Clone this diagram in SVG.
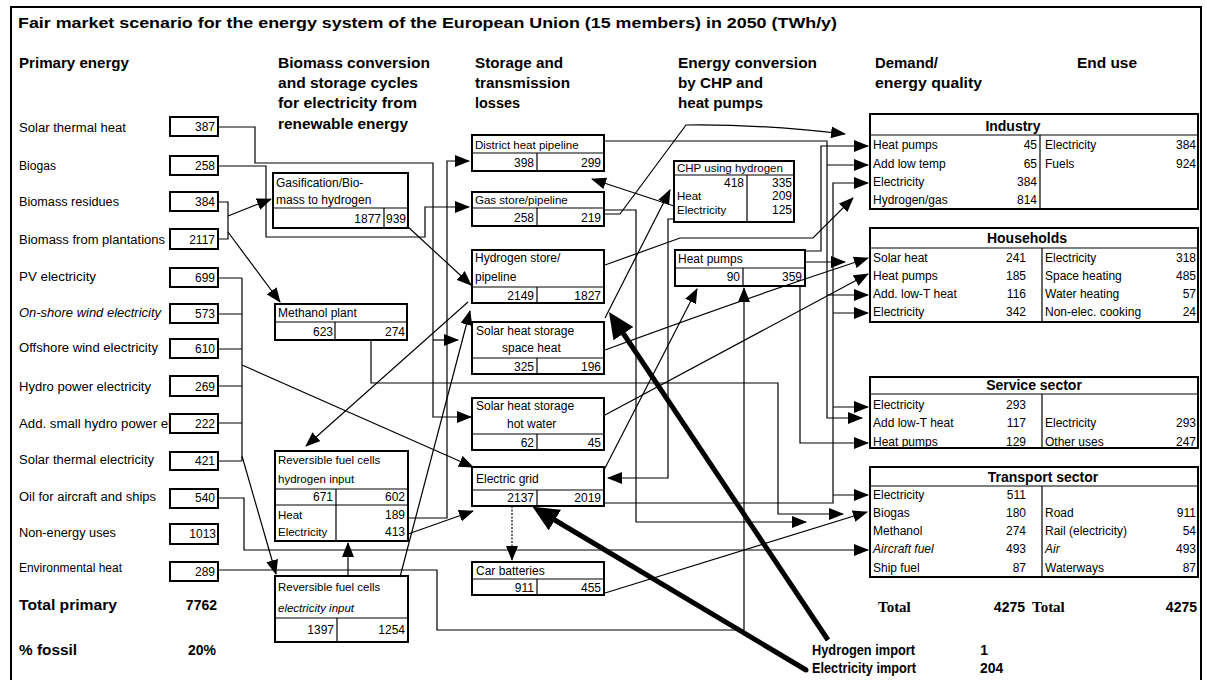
<svg xmlns="http://www.w3.org/2000/svg" width="1207" height="680" viewBox="0 0 1207 680">
<defs>
<style>
text{font-family:"Liberation Sans",Arial,sans-serif;fill:#000}
.t{font-size:12px}
.s{font-size:11.5px}
.h{font-size:14px;font-weight:bold}
.st{font-size:14px;font-weight:bold;text-anchor:middle}
.r{text-anchor:end}
.i{font-style:italic}
.box{fill:#fff;stroke:#000;stroke-width:2}
.ln{stroke:#000;stroke-width:1.2;fill:none}
.c{stroke:#000;stroke-width:1.2;fill:none}
.thick{stroke:#000;stroke-width:5;fill:none}
.serif{font-family:"Liberation Serif","Times New Roman",serif;font-weight:bold;font-size:15px}
</style>
<marker id="ah" markerUnits="userSpaceOnUse" markerWidth="15" markerHeight="12" refX="14" refY="6" orient="auto"><path d="M0,0 L15,6 L0,12 z" fill="#000"/></marker>
<marker id="ahb" markerUnits="userSpaceOnUse" markerWidth="26" markerHeight="24" refX="8" refY="12" orient="auto"><path d="M0,0 L26,12 L0,24 z" fill="#000"/></marker>
</defs>
<rect x="0" y="0" width="1207" height="680" fill="#fff"/>
<rect x="11" y="7" width="1190" height="690" fill="none" stroke="#000" stroke-width="2"/>

<text x="18" y="28" style="font-size:15px;font-weight:bold" textLength="819" lengthAdjust="spacingAndGlyphs">Fair market scenario for the energy system of the European Union (15 members) in 2050 (TWh/y)</text>

<g id="headers">
<text class="h" x="19" y="68" textLength="110" lengthAdjust="spacingAndGlyphs">Primary energy</text>
<text class="h" x="278" y="68" textLength="152" lengthAdjust="spacingAndGlyphs">Biomass conversion</text>
<text class="h" x="278" y="88" textLength="140" lengthAdjust="spacingAndGlyphs">and storage cycles</text>
<text class="h" x="278" y="108" textLength="139" lengthAdjust="spacingAndGlyphs">for electricity from</text>
<text class="h" x="278" y="129" textLength="130" lengthAdjust="spacingAndGlyphs">renewable energy</text>
<text class="h" x="475" y="68" textLength="88" lengthAdjust="spacingAndGlyphs">Storage and</text>
<text class="h" x="475" y="88" textLength="95" lengthAdjust="spacingAndGlyphs">transmission</text>
<text class="h" x="475" y="108" textLength="45" lengthAdjust="spacingAndGlyphs">losses</text>
<text class="h" x="678" y="68" textLength="139" lengthAdjust="spacingAndGlyphs">Energy conversion</text>
<text class="h" x="678" y="88" textLength="85" lengthAdjust="spacingAndGlyphs">by CHP and</text>
<text class="h" x="678" y="108" textLength="85" lengthAdjust="spacingAndGlyphs">heat pumps</text>
<text class="h" x="875" y="68" textLength="63" lengthAdjust="spacingAndGlyphs">Demand/</text>
<text class="h" x="875" y="88" textLength="107" lengthAdjust="spacingAndGlyphs">energy quality</text>
<text class="h" x="1077" y="68" textLength="60" lengthAdjust="spacingAndGlyphs">End use</text>
</g>

<g id="primary">
<text class="t" x="19" y="132" textLength="107" lengthAdjust="spacingAndGlyphs">Solar thermal heat</text>
<rect class="box" x="170" y="117" width="48" height="19"/><text class="t r" x="215" y="131">387</text>
<text class="t" x="19" y="170" textLength="37" lengthAdjust="spacingAndGlyphs">Biogas</text>
<rect class="box" x="170" y="156" width="48" height="19"/><text class="t r" x="215" y="170">258</text>
<text class="t" x="19" y="206" textLength="100" lengthAdjust="spacingAndGlyphs">Biomass residues</text>
<rect class="box" x="170" y="192" width="48" height="19"/><text class="t r" x="215" y="206">384</text>
<text class="t" x="19" y="244" textLength="146" lengthAdjust="spacingAndGlyphs">Biomass from plantations</text>
<rect class="box" x="170" y="229" width="48" height="20"/><text class="t r" x="215" y="244">2117</text>
<text class="t" x="19" y="281" textLength="77" lengthAdjust="spacingAndGlyphs">PV electricity</text>
<rect class="box" x="170" y="268" width="48" height="19"/><text class="t r" x="215" y="282">699</text>
<text class="t i" x="19" y="317" textLength="142" lengthAdjust="spacingAndGlyphs">On-shore wind electricity</text>
<rect class="box" x="170" y="304" width="48" height="19"/><text class="t r" x="215" y="318">573</text>
<text class="t" x="19" y="352" textLength="139" lengthAdjust="spacingAndGlyphs">Offshore wind electricity</text>
<rect class="box" x="170" y="339" width="48" height="19"/><text class="t r" x="215" y="353">610</text>
<text class="t" x="19" y="391" textLength="132" lengthAdjust="spacingAndGlyphs">Hydro power electricity</text>
<rect class="box" x="170" y="376" width="48" height="20"/><text class="t r" x="215" y="391">269</text>
<text class="t" x="19" y="428" textLength="152" lengthAdjust="spacingAndGlyphs">Add. small hydro power el</text>
<rect class="box" x="170" y="414" width="48" height="19"/><text class="t r" x="215" y="428">222</text>
<text class="t" x="19" y="464" textLength="135" lengthAdjust="spacingAndGlyphs">Solar thermal electricity</text>
<rect class="box" x="170" y="452" width="48" height="18"/><text class="t r" x="215" y="465">421</text>
<text class="t" x="19" y="501" textLength="137" lengthAdjust="spacingAndGlyphs">Oil for aircraft and ships</text>
<rect class="box" x="170" y="489" width="48" height="19"/><text class="t r" x="215" y="502">540</text>
<text class="t" x="19" y="537" textLength="97" lengthAdjust="spacingAndGlyphs">Non-energy uses</text>
<rect class="box" x="170" y="524" width="48" height="20"/><text class="t r" x="216" y="538">1013</text>
<text class="t" x="19" y="572" textLength="103" lengthAdjust="spacingAndGlyphs">Environmental heat</text>
<rect class="box" x="170" y="562" width="48" height="19"/><text class="t r" x="215" y="576">289</text>
<text class="h" x="19" y="610" textLength="98" lengthAdjust="spacingAndGlyphs">Total primary</text>
<text class="h r" x="217" y="610">7762</text>
<text class="h" x="19" y="655" textLength="58" lengthAdjust="spacingAndGlyphs">% fossil</text>
<text class="h r" x="216" y="655">20%</text>
</g>

<g id="gasification">
<rect class="box" x="273" y="173" width="135" height="55"/>
<line class="ln" x1="273" y1="208" x2="408" y2="208"/><line class="ln" x1="384" y1="208" x2="384" y2="228"/>
<text class="t" x="276" y="187">Gasification/Bio-</text>
<text class="t" x="276" y="204">mass to hydrogen</text>
<text class="t r" x="381" y="223">1877</text><text class="t r" x="406" y="223">939</text>
</g>
<g id="methanol">
<rect class="box" x="275" y="304" width="132" height="36"/>
<line class="ln" x1="275" y1="322" x2="407" y2="322"/><line class="ln" x1="335" y1="322" x2="335" y2="340"/>
<text class="t" x="278" y="317">Methanol plant</text>
<text class="t r" x="333" y="336">623</text><text class="t r" x="405" y="336">274</text>
</g>
<g id="rfc-hydrogen">
<rect class="box" x="275" y="451" width="133" height="90"/>
<line class="ln" x1="275" y1="489" x2="408" y2="489"/><line class="ln" x1="275" y1="505" x2="408" y2="505"/><line class="ln" x1="336" y1="489" x2="336" y2="541"/>
<text class="s" x="278" y="464">Reversible fuel cells</text>
<text class="s" x="278" y="483">hydrogen input</text>
<text class="t r" x="333" y="501">671</text><text class="t r" x="405" y="501">602</text>
<text class="s" x="278" y="519">Heat</text><text class="t r" x="405" y="519">189</text>
<text class="s" x="278" y="536">Electricity</text><text class="t r" x="405" y="536">413</text>
</g>
<g id="rfc-electricity">
<rect class="box" x="275" y="576" width="133" height="66"/>
<line class="ln" x1="275" y1="618" x2="408" y2="618"/><line class="ln" x1="337" y1="618" x2="337" y2="642"/>
<text class="s" x="278" y="591">Reversible fuel cells</text>
<text class="s i" x="278" y="612">electricity input</text>
<text class="t r" x="334" y="634">1397</text><text class="t r" x="405" y="634">1254</text>
</g>

<g id="district-heat">
<rect class="box" x="472" y="135" width="132" height="36"/>
<line class="ln" x1="472" y1="153" x2="604" y2="153"/><line class="ln" x1="537" y1="153" x2="537" y2="171"/>
<text class="s" x="475" y="149">District heat pipeline</text>
<text class="t r" x="534" y="167">398</text><text class="t r" x="601" y="167">299</text>
</g>
<g id="gas-store">
<rect class="box" x="472" y="192" width="132" height="34"/>
<line class="ln" x1="472" y1="208" x2="604" y2="208"/><line class="ln" x1="537" y1="208" x2="537" y2="226"/>
<text class="s" x="475" y="204">Gas store/pipeline</text>
<text class="t r" x="534" y="222">258</text><text class="t r" x="601" y="222">219</text>
</g>
<g id="hydrogen-store">
<rect class="box" x="472" y="250" width="132" height="53"/>
<line class="ln" x1="472" y1="287" x2="604" y2="287"/><line class="ln" x1="537" y1="287" x2="537" y2="303"/>
<text class="t" x="475" y="262">Hydrogen store/</text>
<text class="t" x="475" y="281">pipeline</text>
<text class="t r" x="534" y="300">2149</text><text class="t r" x="601" y="300">1827</text>
</g>
<g id="solar-space">
<rect class="box" x="472" y="322" width="132" height="52"/>
<line class="ln" x1="472" y1="358" x2="604" y2="358"/><line class="ln" x1="537" y1="358" x2="537" y2="374"/>
<text class="t" x="476" y="335">Solar heat storage</text>
<text class="t" x="502" y="352">space heat</text>
<text class="t r" x="534" y="371">325</text><text class="t r" x="601" y="371">196</text>
</g>
<g id="solar-water">
<rect class="box" x="472" y="398" width="132" height="52"/>
<line class="ln" x1="472" y1="434" x2="604" y2="434"/><line class="ln" x1="537" y1="434" x2="537" y2="450"/>
<text class="t" x="476" y="410">Solar heat storage</text>
<text class="t" x="507" y="428">hot water</text>
<text class="t r" x="534" y="447">62</text><text class="t r" x="601" y="447">45</text>
</g>
<g id="electric-grid">
<rect class="box" x="472" y="467" width="132" height="39"/>
<line class="ln" x1="472" y1="490" x2="604" y2="490"/><line class="ln" x1="537" y1="490" x2="537" y2="506"/>
<text class="t" x="476" y="483">Electric grid</text>
<text class="t r" x="534" y="502">2137</text><text class="t r" x="601" y="502">2019</text>
</g>
<g id="car-batteries">
<rect class="box" x="472" y="562" width="132" height="33"/>
<line class="ln" x1="472" y1="579" x2="604" y2="579"/><line class="ln" x1="537" y1="579" x2="537" y2="595"/>
<text class="t" x="476" y="575">Car batteries</text>
<text class="t r" x="534" y="592">911</text><text class="t r" x="601" y="592">455</text>
</g>
<g id="chp">
<rect class="box" x="674" y="161" width="120" height="61"/>
<line class="ln" x1="674" y1="175" x2="794" y2="175"/><line class="ln" x1="747" y1="175" x2="747" y2="222"/>
<text class="s" x="677" y="172">CHP using hydrogen</text>
<text class="t r" x="744" y="187">418</text><text class="t r" x="792" y="187">335</text>
<text class="s" x="677" y="200">Heat</text><text class="t r" x="792" y="200">209</text>
<text class="s" x="677" y="214">Electricity</text><text class="t r" x="792" y="214">125</text>
</g>
<g id="heat-pumps">
<rect class="box" x="675" y="250" width="130" height="36"/>
<line class="ln" x1="675" y1="268" x2="805" y2="268"/><line class="ln" x1="743" y1="268" x2="743" y2="286"/>
<text class="t" x="678" y="263">Heat pumps</text>
<text class="t r" x="740" y="281">90</text><text class="t r" x="802" y="281">359</text>
</g>

<g id="industry">
<rect class="box" x="870" y="114" width="328" height="95"/>
<line class="ln" x1="870" y1="135" x2="1198" y2="135"/><line class="ln" x1="1040" y1="135" x2="1040" y2="209"/>
<text class="st" x="1013" y="131">Industry</text>
<text class="t" x="873" y="149">Heat pumps</text><text class="t r" x="1037" y="149">45</text>
<text class="t" x="873" y="168">Add low temp</text><text class="t r" x="1037" y="168">65</text>
<text class="t" x="873" y="186">Electricity</text><text class="t r" x="1037" y="186">384</text>
<text class="t" x="873" y="204">Hydrogen/gas</text><text class="t r" x="1037" y="204">814</text>
<text class="t" x="1045" y="149">Electricity</text><text class="t r" x="1196" y="149">384</text>
<text class="t" x="1045" y="168">Fuels</text><text class="t r" x="1196" y="168">924</text>
</g>
<g id="households">
<rect class="box" x="870" y="228" width="328" height="94"/>
<line class="ln" x1="870" y1="248" x2="1198" y2="248"/><line class="ln" x1="1042" y1="248" x2="1042" y2="322"/>
<text class="st" x="1027" y="243">Households</text>
<text class="t" x="873" y="262">Solar heat</text><text class="t r" x="1026" y="262">241</text>
<text class="t" x="873" y="280">Heat pumps</text><text class="t r" x="1026" y="280">185</text>
<text class="t" x="873" y="298">Add. low-T heat</text><text class="t r" x="1026" y="298">116</text>
<text class="t" x="873" y="316">Electricity</text><text class="t r" x="1026" y="316">342</text>
<text class="t" x="1045" y="262">Electricity</text><text class="t r" x="1196" y="262">318</text>
<text class="t" x="1045" y="280">Space heating</text><text class="t r" x="1196" y="280">485</text>
<text class="t" x="1045" y="298">Water heating</text><text class="t r" x="1196" y="298">57</text>
<text class="t" x="1045" y="316">Non-elec. cooking</text><text class="t r" x="1196" y="316">24</text>
</g>
<g id="service">
<rect class="box" x="870" y="377" width="328" height="71"/>
<line class="ln" x1="870" y1="394" x2="1198" y2="394"/><line class="ln" x1="1042" y1="394" x2="1042" y2="448"/>
<text class="st" x="1034" y="390">Service sector</text>
<text class="t" x="873" y="409">Electricity</text><text class="t r" x="1026" y="409">293</text>
<text class="t" x="873" y="427">Add low-T heat</text><text class="t r" x="1026" y="427">117</text>
<text class="t" x="873" y="446">Heat pumps</text><text class="t r" x="1026" y="446">129</text>
<text class="t" x="1045" y="427">Electricity</text><text class="t r" x="1196" y="427">293</text>
<text class="t" x="1045" y="446">Other uses</text><text class="t r" x="1196" y="446">247</text>
</g>
<g id="transport">
<rect class="box" x="870" y="467" width="328" height="110"/>
<line class="ln" x1="870" y1="486" x2="1198" y2="486"/><line class="ln" x1="1042" y1="486" x2="1042" y2="577"/>
<text class="st" x="1043" y="482">Transport sector</text>
<text class="t" x="873" y="499">Electricity</text><text class="t r" x="1026" y="499">511</text>
<text class="t" x="873" y="517">Biogas</text><text class="t r" x="1026" y="517">180</text>
<text class="t" x="873" y="535">Methanol</text><text class="t r" x="1026" y="535">274</text>
<text class="t i" x="873" y="553">Aircraft fuel</text><text class="t r" x="1026" y="553">493</text>
<text class="t" x="873" y="572">Ship fuel</text><text class="t r" x="1026" y="572">87</text>
<text class="t" x="1045" y="517">Road</text><text class="t r" x="1196" y="517">911</text>
<text class="t" x="1045" y="535">Rail (electricity)</text><text class="t r" x="1196" y="535">54</text>
<text class="t i" x="1045" y="553">Air</text><text class="t r" x="1196" y="553">493</text>
<text class="t" x="1045" y="572">Waterways</text><text class="t r" x="1196" y="572">87</text>
</g>
<g id="totals">
<text class="serif" x="878" y="612">Total</text>
<text class="h r" x="1025" y="612">4275</text>
<text class="serif" x="1032" y="612">Total</text>
<text class="h r" x="1197" y="612">4275</text>
</g>
<g id="imports">
<text class="h" x="812" y="655" textLength="103" lengthAdjust="spacingAndGlyphs">Hydrogen import</text>
<text class="h r" x="988" y="655">1</text>
<text class="h" x="812" y="673" textLength="104" lengthAdjust="spacingAndGlyphs">Electricity import</text>
<text class="h" x="980" y="673">204</text>
</g>

<g id="connectors">
<path class="c" d="M218,127 H255 V163 H433 V417 H471" marker-end="url(#ah)"/>
<path class="c" d="M433,340 H458" marker-end="url(#ah)"/>
<path class="c" d="M218,166 H266 V237 H425 V207 H469" marker-end="url(#ah)"/>
<path class="c" d="M218,202 H228 V239 H218"/>
<path class="c" d="M228,216 L271,199" marker-end="url(#ah)"/>
<path class="c" d="M228,232 L280,302" marker-end="url(#ah)"/>
<path class="c" d="M218,278 H242 M218,314 H242 M218,349 H242 M218,386 H242 M218,423 H242 M218,461 H242 M242,278 V461"/>
<path class="c" d="M242,365 L473,467" marker-end="url(#ah)"/>
<path class="c" d="M242,456 L276,574" marker-end="url(#ah)"/>
<path class="c" d="M218,498 H244 V550 H868" marker-end="url(#ah)"/>
<path class="c" d="M218,570 H437 V630 H744 V288" marker-end="url(#ah)"/>
<path class="c" d="M371,340 V383 H778 V514 H843" marker-end="url(#ah)"/>
<path class="c" d="M407,226 L471,285" marker-end="url(#ah)"/>
<path class="c" d="M468,302 L306,446" marker-end="url(#ah)"/>
<path class="c" d="M400,577 L470,311" marker-end="url(#ah)"/>
<path class="c" d="M348,576 V543" marker-end="url(#ah)"/>
<path class="c" d="M408,518 H447 V161 H469" marker-end="url(#ah)"/>
<path class="c" d="M408,534 L473,511" marker-end="url(#ah)"/>
<path class="c" d="M512,506 V560" stroke-dasharray="2,1.5" marker-end="url(#ah)"/>
<path class="c" d="M604,470 L697,289" marker-end="url(#ah)"/>
<path class="c" d="M800,286 V443 H868" marker-end="url(#ah)"/>
<path class="c" d="M805,262 H845" marker-end="url(#ah)"/>
<path class="c" d="M805,251 H821 V146 H868" marker-end="url(#ah)"/>
<path class="c" d="M604,141 H827 V418 H862" marker-end="url(#ah)"/>
<path class="c" d="M827,165 H868" marker-end="url(#ah)"/>
<path class="c" d="M827,295 H868" marker-end="url(#ah)"/>
<path class="c" d="M604,503 H833 V183 H868" marker-end="url(#ah)"/>
<path class="c" d="M833,313 H868" marker-end="url(#ah)"/>
<path class="c" d="M833,407 H868" marker-end="url(#ah)"/>
<path class="c" d="M833,495 H868" marker-end="url(#ah)"/>
<path class="c" d="M605,350 Q740,300 868,258" marker-end="url(#ah)"/>
<path class="c" d="M605,415 L868,274" marker-end="url(#ah)"/>
<path class="c" d="M605,593 L867,512" marker-end="url(#ah)"/>
<path class="c" d="M604,210 H636 V522 H806" marker-end="url(#ah)"/>
<path class="c" d="M604,214 H620 L686,125 Q760,124 845,134" marker-end="url(#ah)"/>
<path class="c" d="M605,265 L680,238 H813 L853,198" marker-end="url(#ah)"/>
<path class="c" d="M605,318 L670,190" marker-end="url(#ah)"/>
<path class="c" d="M674,206 L592,179" marker-end="url(#ah)"/>
<path class="c" d="M674,219 H668 V478 H608" marker-end="url(#ah)"/>
<path class="thick" d="M806,670 L548,516" marker-end="url(#ahb)"/>
<path class="thick" d="M828,640 L619,327" marker-end="url(#ahb)"/>
<circle cx="806" cy="670" r="2.5" fill="#000"/>
</g>
</svg>
